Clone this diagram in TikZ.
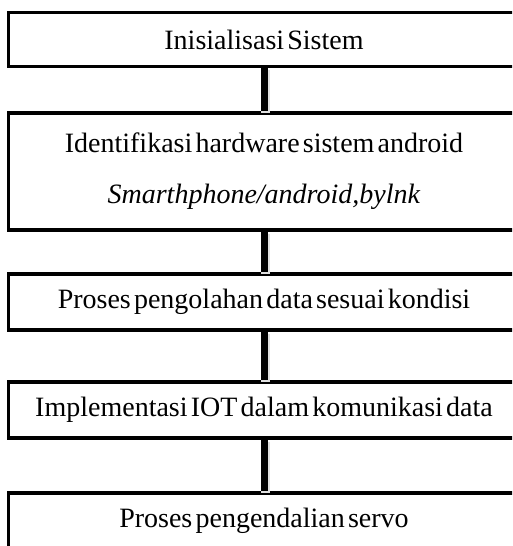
\documentclass[tikz,border=0pt]{standalone}
\usepackage{fontspec}
\setmainfont{Liberation Serif}
\newcommand{\boxfont}{\fontsize{28}{33}\selectfont\spaceskip=3.2pt plus 1pt minus 1pt\relax}
\begin{document}
\begin{tikzpicture}[x=1pt,y=-1pt,
  box/.style={draw=black, line width=3.3pt, fill=white, rectangle, minimum width=511pt, inner sep=0pt, align=center,
    font=\boxfont},
  conn/.style={line width=7pt, black},
  shade/.style={line width=9pt, black!12}]
\useasboundingbox (0,0) rectangle (512,546);
\clip (0,0) rectangle (512,546);
\node[box, minimum height=54pt] (b1) at (264,39.5) {Inisialisasi Sistem};
\node[box, minimum height=117pt] (b2) at (264,171.5) {Identifikasi hardware sistem android\\[18pt]\textit{Smarthphone/android,bylnk}};
\node[box, minimum height=56pt] (b3) at (264,302) {Proses pengolahan data sesuai kondisi};
\node[box, minimum height=56pt] (b4) at (264,410) {Implementasi IOT dalam komunikasi data};
\node[box, minimum height=56pt] (b5) at (264,521) {Proses pengendalian servo};
\foreach \a/\b in {b1/b2,b2/b3,b3/b4,b4/b5}{
  \draw[shade] ([xshift=1.5pt,yshift=-2pt]\a.south) -- ([xshift=1.5pt,yshift=-2pt]\b.north);
  \draw[conn] (\a.south) -- (\b.north);
}
\end{tikzpicture}
\end{document}
